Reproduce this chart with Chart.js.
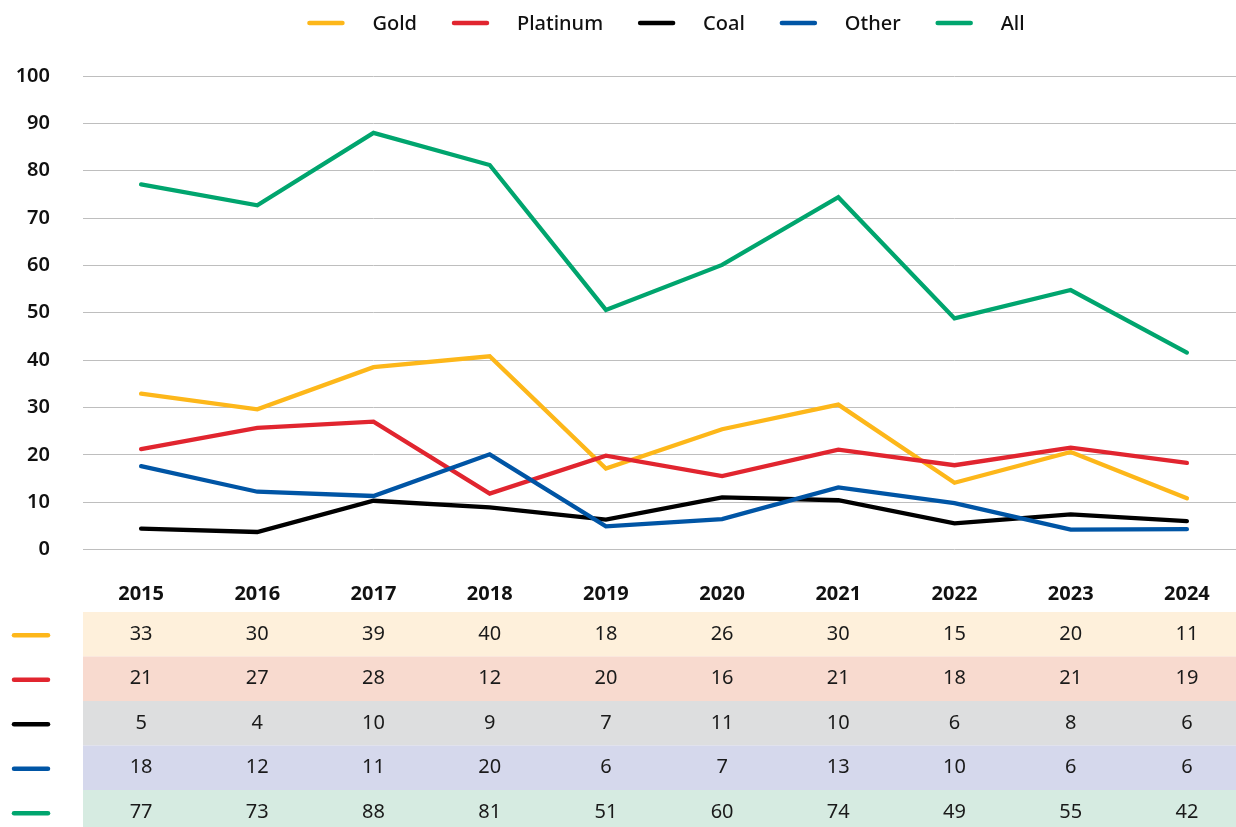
<!DOCTYPE html>
<html>
<head>
<meta charset="utf-8">
<script src="https://cdn.jsdelivr.net/npm/chart.js@4/dist/chart.umd.min.js"></script>
<style>
    html, body { margin: 0; padding: 0; background: #ffffff; overflow: hidden; }
    #wrap { width: 1245px; height: 827px; }
</style>
</head>
<body>
<div id="wrap"><canvas id="chart" width="1245" height="827"></canvas></div>
<script>
// Jaren op de x-as
const years = ['2015', '2016', '2017', '2018', '2019', '2020', '2021', '2022', '2023', '2024'];

// Waarden van de lijnen
const goldLine     = [32.9, 29.6, 38.5, 40.8, 17.1, 25.4, 30.6, 14.1, 20.6, 10.8];
const platinumLine = [21.2, 25.7, 27.0, 11.8, 19.8, 15.5, 21.1, 17.8, 21.5, 18.3];
const coalLine     = [4.4, 3.7, 10.3, 8.9, 6.3, 11.0, 10.4, 5.5, 7.4, 6.0];
const otherLine    = [17.6, 12.2, 11.3, 20.1, 4.9, 6.4, 13.1, 9.8, 4.2, 4.3];
const allLine      = [77.1, 72.7, 88.0, 81.2, 50.6, 60.1, 74.4, 48.8, 54.8, 41.6];

// Waarden in de tabel onder de grafiek
const goldTable     = [33, 30, 39, 40, 18, 26, 30, 15, 20, 11];
const platinumTable = [21, 27, 28, 12, 20, 16, 21, 18, 21, 19];
const coalTable     = [5, 4, 10, 9, 7, 11, 10, 6, 8, 6];
const otherTable    = [18, 12, 11, 20, 6, 7, 13, 10, 6, 6];
const allTable      = [77, 73, 88, 81, 51, 60, 74, 49, 55, 42];

// Y-as labels
const yTicks = [0, 10, 20, 30, 40, 50, 60, 70, 80, 90, 100];

const FONT = "'Noto Sans', sans-serif";

const series = [
    { label: 'Gold',     line: goldLine,     table: goldTable,     color: '#FDB71A', fill: '#FEF0DB' },
    { label: 'Platinum', line: platinumLine, table: platinumTable, color: '#E1252F', fill: '#F8DACF' },
    { label: 'Coal',     line: coalLine,     table: coalTable,     color: '#000000', fill: '#DDDEDF' },
    { label: 'Other',    line: otherLine,    table: otherTable,    color: '#0055A5', fill: '#D5D8EC' },
    { label: 'All',      line: allLine,      table: allTable,      color: '#00A56E', fill: '#D6EBE1' }
];

// Teken legenda bovenaan en de tabel onder de grafiek
const legendAndTable = {
    id: 'legendAndTable',
    afterDraw(chart) {
        const ctx = chart.ctx;
        const area = chart.chartArea;
        const xScale = chart.scales.x;

        ctx.save();

        // Legenda
        ctx.font = '500 20px ' + FONT;
        const markW = 37, gapText = 28, gapItem = 35;
        let total = 0;
        series.forEach((s, i) => {
            total += markW + gapText + ctx.measureText(s.label).width;
            if (i < series.length - 1) total += gapItem;
        });
        let x = 666 - total / 2;
        const ly = 23;
        ctx.lineCap = 'round';
        ctx.lineWidth = 4.5;
        ctx.textBaseline = 'middle';
        ctx.textAlign = 'left';
        series.forEach(s => {
            ctx.strokeStyle = s.color;
            ctx.beginPath();
            ctx.moveTo(x + 2, ly);
            ctx.lineTo(x + markW - 2, ly);
            ctx.stroke();
            x += markW + gapText;
            ctx.fillStyle = '#111111';
            ctx.fillText(s.label, x, ly + 1);
            x += ctx.measureText(s.label).width + gapItem;
        });

        // Tabel
        const rowH = 44.5;
        const top = area.bottom + 62.5;
        ctx.font = '400 20px ' + FONT;
        ctx.textAlign = 'center';
        series.forEach((s, r) => {
            const y0 = top + r * rowH;
            ctx.fillStyle = s.fill;
            ctx.fillRect(area.left, y0, area.right - area.left, rowH);

            ctx.strokeStyle = s.color;
            ctx.beginPath();
            ctx.moveTo(14, y0 + rowH / 2 + 1);
            ctx.lineTo(48, y0 + rowH / 2 + 1);
            ctx.stroke();

            ctx.fillStyle = '#1a1a1a';
            s.table.forEach((v, i) => {
                ctx.fillText(String(v), xScale.getPixelForValue(i), y0 + rowH / 2);
            });
        });

        ctx.restore();
    }
};

new Chart(document.getElementById('chart'), {
    type: 'line',
    data: {
        labels: years,
        datasets: series.map((s, i) => ({
            label: s.label,
            data: s.line,
            borderColor: s.color,
            backgroundColor: s.color,
            borderWidth: 4.3,
            borderCapStyle: 'round',
            borderJoinStyle: 'miter',
            pointRadius: 0,
            tension: 0,
            order: series.length - i
        }))
    },
    options: {
        responsive: false,
        animation: false,
        layout: {
            padding: { top: 76, right: 0, bottom: 0, left: 0 }
        },
        plugins: {
            legend: { display: false },
            tooltip: { enabled: false }
        },
        scales: {
            x: {
                offset: true,
                grid: { display: false },
                border: { display: false },
                ticks: {
                    color: '#111111',
                    padding: 25,
                    font: { family: FONT, size: 20, weight: '700' }
                },
                afterFit(scale) {
                    scale.height = 277.5;
                }
            },
            y: {
                min: 0,
                max: 100,
                afterBuildTicks(scale) {
                    scale.ticks = yTicks.map(v => ({ value: v }));
                },
                grid: { color: '#BEBEBE', lineWidth: 1, drawTicks: false },
                border: { display: false },
                ticks: {
                    color: '#111111',
                    padding: 33,
                    font: { family: FONT, size: 20, weight: '600' }
                },
                afterFit(scale) {
                    scale.width = 83;
                }
            }
        }
    },
    plugins: [legendAndTable]
});
</script>
</body>
</html>
